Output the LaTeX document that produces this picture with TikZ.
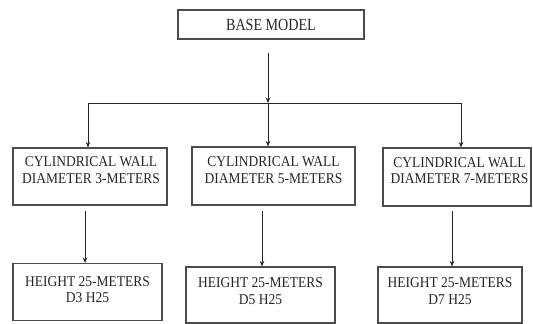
\documentclass[tikz,border=0pt]{standalone}
\usepackage{fontspec}
\setmainfont{Liberation Serif}[FakeStretch=0.9]
\newfontfamily\basefont{Liberation Serif}[FakeStretch=0.83]
\usetikzlibrary{arrows.meta}
\begin{document}
\begin{tikzpicture}[x=1pt,y=1pt,
  box/.style={draw=black!70, line width=1.1pt, inner sep=0pt},
  txt/.style={align=center, inner sep=0pt, text=black!85, font=\fontsize{15}{16.5}\selectfont},
  basetxt/.style={text=black!85, font=\basefont\fontsize{17}{19}\selectfont},
  arr/.style={-{Stealth[length=5.5pt,width=4.5pt]}, line width=0.8pt, draw=black!85},
  conn/.style={line width=0.8pt, draw=black!85}]
\useasboundingbox (0,0) rectangle (533,-324);
% base
\node[box, basetxt, minimum width=186pt, minimum height=29pt] (base) at (271,-24.5) {BASE MODEL};
% level 2 boxes
\node[box, minimum width=154pt, minimum height=57pt] (b1) at (90,-176.5) {};
\node[box, minimum width=163pt, minimum height=58pt] (b2) at (273.5,-176) {};
\node[box, minimum width=148pt, minimum height=58pt] (b3) at (457,-177) {};
\node[txt] (t1) at (91,-170) {CYLINDRICAL WALL\\DIAMETER 3-METERS};
\node[txt] (t2) at (273.5,-170) {CYLINDRICAL WALL\\DIAMETER 5-METERS};
\node[txt] (t3) at (459.5,-170.5) {CYLINDRICAL WALL\\DIAMETER 7-METERS};
% level 3 boxes
\node[box, minimum width=149pt, minimum height=57pt] (c1) at (87.5,-292) {};
\node[box, minimum width=149pt, minimum height=56pt] (c2) at (260.5,-295) {};
\node[box, minimum width=144pt, minimum height=56pt] (c3) at (450,-295) {};
\node[txt] (u1) at (87.5,-289.5) {HEIGHT 25-METERS\\D3 H25};
\node[txt] (u2) at (260.5,-291) {HEIGHT 25-METERS\\D5 H25};
\node[txt] (u3) at (450,-291) {HEIGHT 25-METERS\\D7 H25};
% connectors level 1 -> 2
\coordinate (j1) at (88,-103);
\coordinate (j2) at (268,-103);
\coordinate (j3) at (461,-103);
\draw[arr, shorten <=13pt] (base.south -| j2) -- (j2);
\draw[conn] (j1) -- (j3);
\draw[arr] (j1) -- (j1 |- b1.north);
\draw[arr] (j2) -- (j2 |- b2.north);
\draw[arr] (j3) -- (j3 |- b3.north);
% connectors level 2 -> 3
\coordinate (k1) at (85,-211);
\coordinate (k2) at (262,-211);
\coordinate (k3) at (452,-211);
\draw[arr] (k1) -- (k1 |- c1.north);
\draw[arr] (k2) -- (k2 |- c2.north);
\draw[arr] (k3) -- (k3 |- c3.north);
\end{tikzpicture}
\end{document}
